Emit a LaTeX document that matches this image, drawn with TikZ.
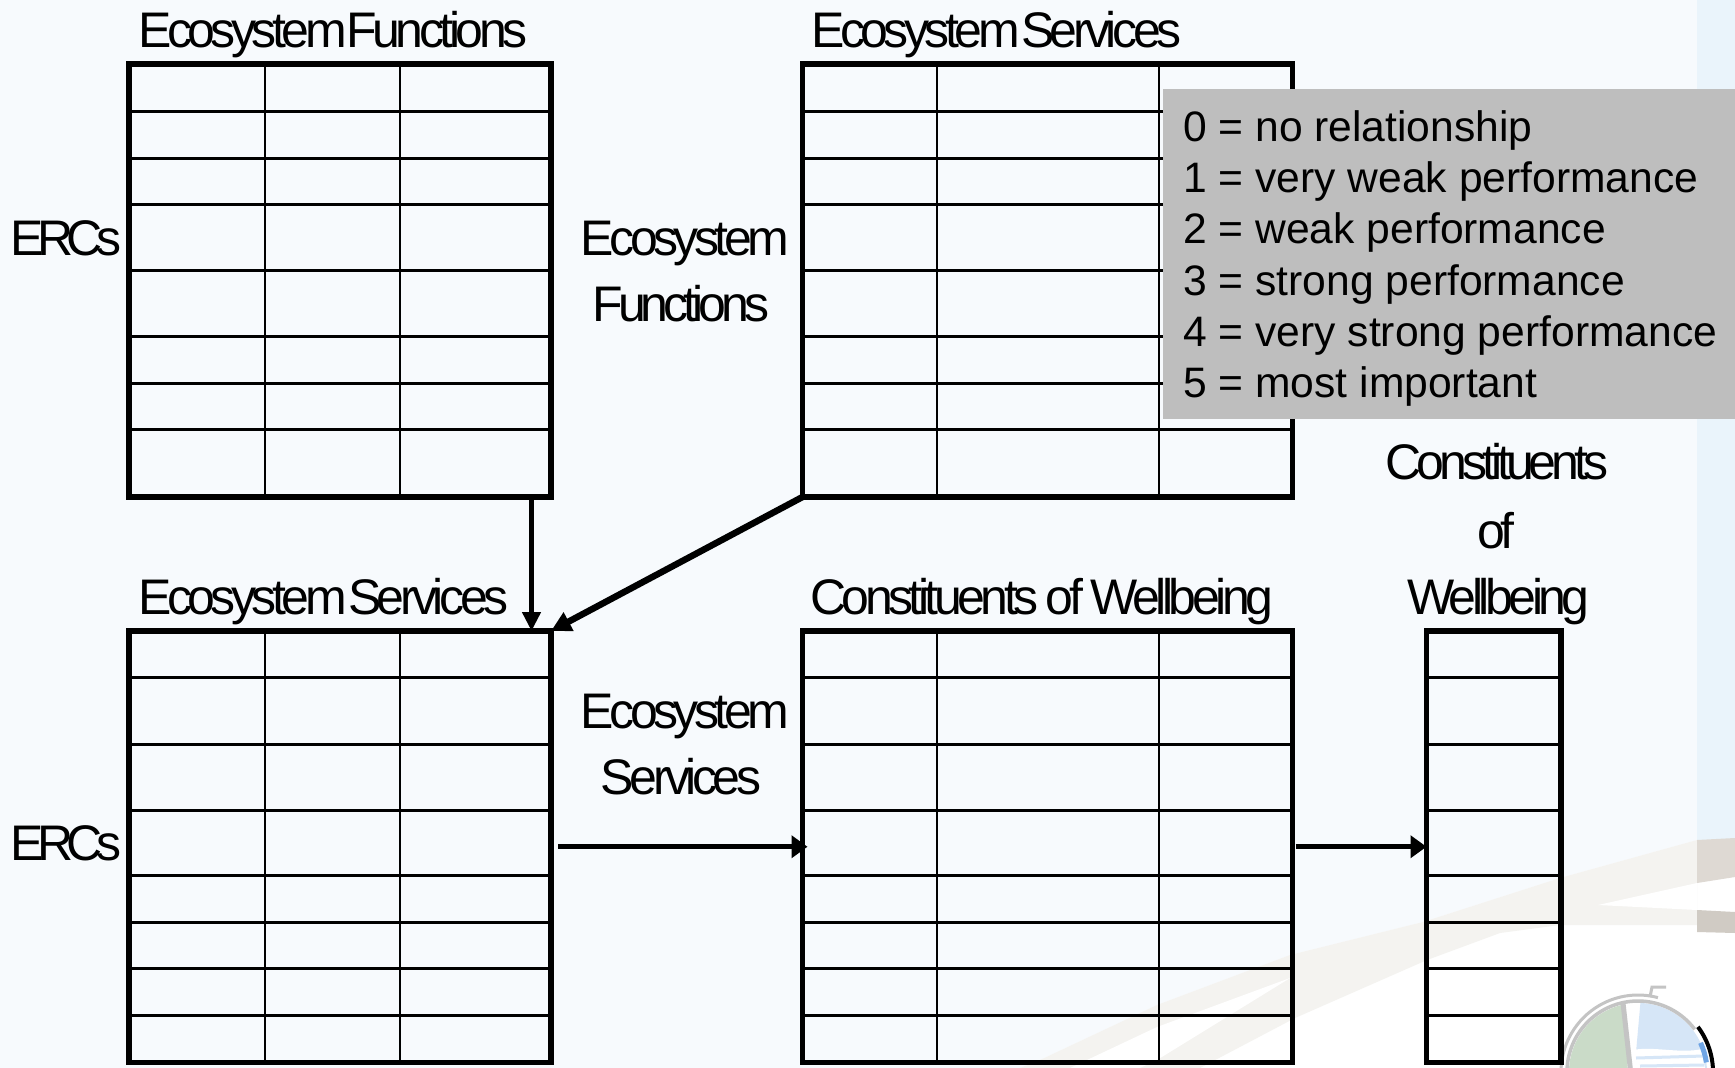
\documentclass[tikz,border=0pt]{standalone}
\usepackage{fontspec}
\setmainfont{Liberation Sans}
\newfontfamily\tightfont[LetterSpace=-9]{Liberation Sans}
\newfontfamily\tightbfont[LetterSpace=-10]{Liberation Sans}
\newfontfamily\tighterfont[LetterSpace=-13]{Liberation Sans}
\usetikzlibrary{arrows.meta,calc}
\definecolor{pagebg}{HTML}{F7FAFD}
\definecolor{stripeblue}{HTML}{EAF4FB}
\definecolor{swoosh}{HTML}{F4F3F0}
\definecolor{stripebrown}{HTML}{DED9D3}
\definecolor{stripegrey}{HTML}{D0CBC4}
\definecolor{legendgrey}{HTML}{BEBEBE}
\definecolor{globegreen}{HTML}{CADBC8}
\definecolor{globeblue}{HTML}{D6E6F7}
\definecolor{globeline}{HTML}{C4C4C4}
\definecolor{globedeep}{HTML}{6FA5E5}
\tikzset{
  tableframe/.style={draw=black,line width=5.1pt,inner sep=0pt,outer sep=0pt},
  rowline/.style={line width=3pt,black},
  colline/.style={line width=2.4pt,black},
  heading/.style={anchor=base west,inner sep=0pt,font=\tightfont\fontsize{50}{50}\selectfont},
  erclabel/.style={anchor=base west,inner sep=0pt,font=\tighterfont\fontsize{50}{50}\selectfont},
  sidelabel/.style={anchor=base,inner sep=0pt,font=\tightfont\fontsize{50}{50}\selectfont},
  sidelabelb/.style={anchor=base,inner sep=0pt,font=\tightbfont\fontsize{50}{50}\selectfont},
  legendbox/.style={fill=legendgrey,anchor=north west,inner sep=0pt,outer sep=0pt,minimum width=572pt,minimum height=330pt},
  legendtext/.style={anchor=north west,inner sep=0pt,align=left,font=\fontsize{42.6}{51.2}\selectfont},
  flow/.style={line width=5.2pt,-{Triangle[length=16pt,width=22pt]}},
}
\newcommand{\gridtable}[7]{%
  \foreach \gx in {#6} {\draw[colline] (\gx,#3) -- (\gx,#4);}
  \foreach \gy in {#7} {\draw[rowline] (#1,\gy) -- (#2,\gy);}
  \pgfmathsetmacro{\gw}{#2-#1}
  \pgfmathsetmacro{\gh}{#4-#3}
  \node[tableframe,minimum width=\gw pt,minimum height=\gh pt] (#5) at ({(#1+#2)/2},{(#3+#4)/2}) {};
}
\begin{document}
\begin{tikzpicture}[x=1pt,y=-1pt]
\useasboundingbox (0,0) rectangle (1735,1068);
\begin{scope}
\clip (0,0) rectangle (1735,1068);
% page and swoosh
\fill[white] (0,0) rectangle (1735,1068);
\fill[pagebg] (0,0) -- (1697,0) -- (1697,840) -- (1560,878) -- (1423,922) -- (1290,955) -- (1157,1005) -- (1040,1060) -- (1020,1068) -- (0,1068) -- cycle;
\fill[swoosh] (1020,1068) -- (1040,1060) -- (1157,1005) -- (1290,955) -- (1423,922) -- (1560,878) -- (1697,840) -- (1697,925) -- (1560,925) -- (1500,933) -- (1427,960) -- (1295,1018) -- (1200,1068) -- cycle;
\fill[white] (1070,1068) -- (1157,1027) -- (1290,978) -- (1295,975) -- (1157,1060) -- (1140,1068) -- cycle;
\fill[white] (1598,905) -- (1697,883) -- (1697,910) -- cycle;
\fill[stripeblue] (1697,0) rectangle (1735,840);
\fill[stripebrown] (1697,840) -- (1735,838) -- (1735,877) -- (1697,883) -- cycle;
\fill[stripegrey] (1697,910) -- (1735,912) -- (1735,933) -- (1697,932) -- cycle;
% globe
\fill[globegreen] (1569,1072) arc (180:258:69) -- (1628,1075) -- (1569,1075) -- cycle;
\fill[globeblue] (1640.4,1003) arc (272:360:69) -- (1707,1075) -- (1634,1075) -- cycle;
\fill[white] (1632,1050) .. controls (1655,1046) and (1680,1054) .. (1702,1049) -- (1706,1075) -- (1634,1075) -- cycle;
\draw[globeblue,line width=3pt] (1636,1058) -- (1704,1056);
\draw[globeblue,line width=3pt] (1640,1066) -- (1704,1065);
\draw[globeline,line width=3pt] (1561,1072) arc (180:285:77);
\draw[globeline,line width=3.5pt] (1567,1072) arc (180:323:71);
\draw[globeline,line width=5pt] (1623,1003) -- (1631,1075);
\draw[globeline,line width=3pt] (1650,997) -- (1652,987) -- (1666,987);
\draw[globedeep,line width=5pt] (1638,1072) ++(335:69) arc (335:352:69);
\draw[black,line width=4pt] (1638,1072) ++(323:75) arc (323:360:75);
\end{scope}
% tables
\gridtable{129}{551}{64}{497}{A}{265,400}{111,158,204,270,336,383,429}
\gridtable{802.5}{1292.5}{64}{497}{B}{937,1159}{111,158,204,270,336,383,429}
\gridtable{129}{551}{631}{1062.5}{C}{265,400}{677,744,810,875,922,968,1015}
\gridtable{802.5}{1292.5}{631}{1062.5}{D}{937,1159}{677,744,810,875,922,968,1015}
\gridtable{1426.5}{1561}{631}{1062.5}{E}{}{677,744,810,875,922,968,1015}
% connectors
\draw[flow,line width=4.5pt,-{Triangle[length=19pt,width=18pt]}] ([xshift=-19.5pt]A.south east) -- ([xshift=-19.5pt]C.north east);
\draw[flow,line width=6.5pt,-{Triangle[length=20pt,width=20pt]}] (B.south west) -- (C.north east);
\draw[flow,shorten <=7pt,shorten >=-5pt] (C.east) -- (D.west);
\draw[flow,shorten <=3pt] (D.east) -- (E.west);
% legend
\node[legendbox] (legendpanel) at (1163,89) {};
\node[legendtext] (legend) at (1183,110.5) {0 = no relationship\\1 = very weak performance\\2 = weak performance\\3 = strong performance\\4 = very strong performance\\5 = most important};
% labels
\node[heading] (t1) at (138,47) {Ecosystem\hspace{-9.5pt} Functions};
\node[heading] (t2) at (811,47) {Ecosystem\hspace{-8pt} Services};
\node[heading] (t3) at (138,614) {Ecosystem\hspace{-8pt} Services};
\node[heading] (t4) at (810,614) {Constituents\hspace{-2pt} of\hspace{-2pt} Wellbeing};
\node[erclabel] (e1) at (10,255) {ERCs};
\node[erclabel] (e2) at (10,860) {ERCs};
\node[sidelabel] (f1) at (685,255) {Ecosystem};
\node[sidelabelb] (f2) at (681,321) {Functions};
\node[sidelabel] (s1) at (685,728) {Ecosystem};
\node[sidelabel] (s2) at (681,794) {Services};
\node[sidelabelb] (w1) at (1497,479) {Constituents};
\node[sidelabel] (w2) at (1496,548) {of};
\node[sidelabel] (w3) at (1498.5,614) {Wellbeing};
\end{tikzpicture}
\end{document}
